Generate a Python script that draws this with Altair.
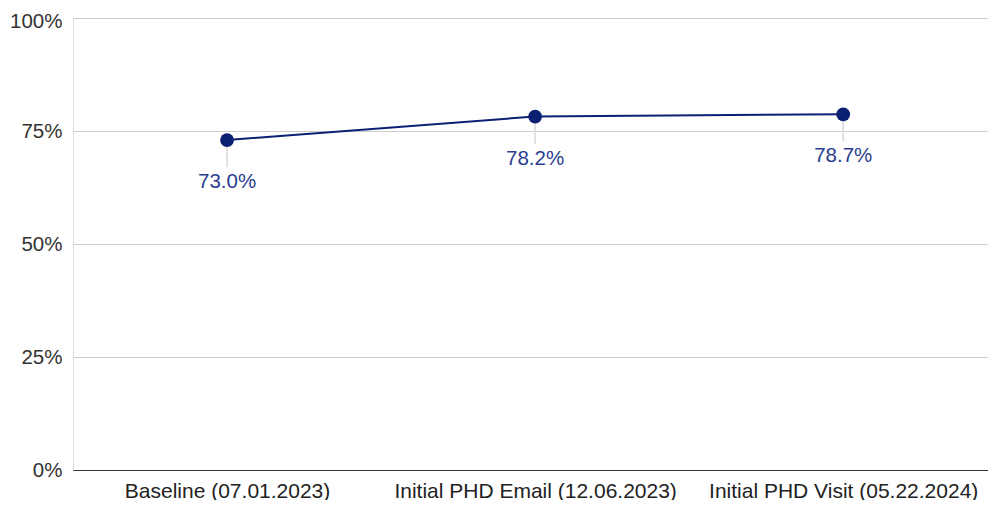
import altair as alt
import pandas as pd
import json

categories = ["Baseline (07.01.2023)", "Initial PHD Email (12.06.2023)", "Initial PHD Visit (05.22.2024)"]
values = [0.730, 0.782, 0.787]
labels = ["73.0%", "78.2%", "78.7%"]

df = pd.DataFrame({"idx": list(range(len(categories))), "cat": categories, "v": values, "lab": labels})

FONT = "Liberation Sans"
NAVY = "#0b1f73"
LABEL_BLUE = "#2b3d8f"
FS = 20.5

label_expr = json.dumps(categories) + "[datum.value]"
xscale = alt.Scale(domain=[-0.5, 2.47], nice=False, zero=False)

x = alt.X("idx:Q", title=None, scale=xscale,
          axis=alt.Axis(values=[0, 1, 2], labelExpr=label_expr, labelAngle=0, labelFontSize=21,
                        labelFont=FONT, labelColor="#222222", labelPadding=10, labelLimit=0,
                        labelFlush=False, labelOverlap=False, ticks=False, domain=True,
                        domainColor="#333333", domainWidth=1.2, grid=False))
y = alt.Y("v:Q", title=None,
          scale=alt.Scale(domain=[0, 1]),
          axis=alt.Axis(values=[0, 0.25, 0.5, 0.75, 1], format=".0%", labelFontSize=20.5,
                        labelFont=FONT, labelColor="#333333", labelPadding=11, ticks=False,
                        labelFlush=False,
                        labelOffset=alt.condition("datum.value === 1", alt.value(3), alt.value(0)),
                        domain=False, gridColor="#cccccc", gridWidth=1.2))

base = alt.Chart(df)

leader = base.transform_calculate(v2="datum.v - 0.06").mark_rule(
    color="#e0e0e0", strokeWidth=2
).encode(x=alt.X("idx:Q", scale=xscale), y="v:Q", y2="v2:Q")

line = base.mark_line(color=NAVY, strokeWidth=2).encode(x=x, y=y)
points = base.mark_point(filled=True, color=NAVY, size=190, opacity=1).encode(
    x=alt.X("idx:Q", scale=xscale), y="v:Q")
text = base.mark_text(dy=42, fontSize=FS, font=FONT, color=LABEL_BLUE, baseline="middle").encode(
    x=alt.X("idx:Q", scale=xscale), y="v:Q", text="lab:N")

chart = alt.layer(line, leader, points, text).properties(
    width=915, height=452,
    autosize=alt.AutoSizeParams(type="none"),
    padding={"left": 65, "top": 10, "right": 0, "bottom": 30}
).configure_view(stroke=None).configure(background="white")

chart.save("out.html", embed_options={"renderer": "svg", "actions": False})
